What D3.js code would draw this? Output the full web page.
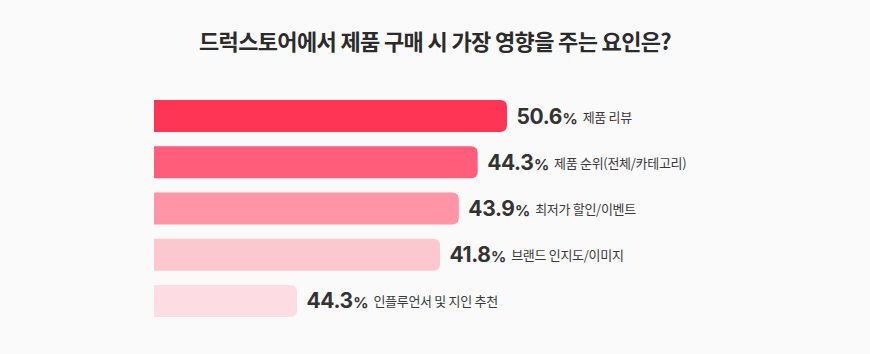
<!DOCTYPE html>
<html>
<head>
<meta charset="utf-8">
<script src="https://cdn.jsdelivr.net/npm/d3@7"></script>
<style>
  html, body { margin: 0; padding: 0; background: #fafafa; }
  svg { display: block; }
</style>
</head>
<body>
<svg id="chart"></svg>
<script>
// chart data
const title = "드럭스토어에서 제품 구매 시 가장 영향을 주는 요인은?";
const categories = ["제품 리뷰", "제품 순위(전체/카테고리)", "최저가 할인/이벤트", "브랜드 인지도/이미지", "인플루언서 및 지인 추천"];
// percentages printed next to each bar
const shares = [50.6, 44.3, 43.9, 41.8, 44.3];
// bar lengths as drawn in the picture (same % units)
const barLengths = [50.6, 46.4, 43.7, 41.0, 20.5];
const colors = ["#ff3556", "#ff5d79", "#ff95a6", "#fdc7d0", "#fddde3"];

const width = 870, height = 354;

const svg = d3.select("#chart")
  .attr("width", width)
  .attr("height", height);

svg.append("rect").attr("width", width).attr("height", height).attr("fill", "#fafafa");

svg.append("text")
  .attr("x", 435)
  .attr("y", 50)
  .attr("text-anchor", "middle")
  .attr("font-family", "'Noto Sans CJK KR', sans-serif")
  .attr("font-weight", 700)
  .attr("font-size", 22)
  .attr("letter-spacing", -0.65)
  .attr("fill", "#2b2b2b")
  .text(title);

const x = d3.scaleLinear().domain([0, 50.6]).range([154, 507]);
const y = d3.scaleBand().domain(d3.range(categories.length)).range([100, 317]).paddingInner(0.307).paddingOuter(0);

// bar with rounded right end only
function barPath(x0, x1, y0, h, r) {
  return `M${x0},${y0}H${x1 - r}Q${x1},${y0} ${x1},${y0 + r}V${y0 + h - r}Q${x1},${y0 + h} ${x1 - r},${y0 + h}H${x0}Z`;
}

const rows = svg.selectAll("g.row")
  .data(categories.map((c, i) => ({ cat: c, share: shares[i], len: barLengths[i], color: colors[i], i })))
  .join("g")
  .attr("class", "row");

rows.append("path")
  .attr("d", d => barPath(x(0), x(d.len), y(d.i), y.bandwidth(), 7))
  .attr("fill", d => d.color);

const labels = rows.append("text")
  .attr("x", d => x(d.len) + 9.5)
  .attr("y", d => y(d.i) + y.bandwidth() / 2 + 7.5)
  .attr("fill", "#333");

labels.append("tspan")
  .attr("font-family", "Inter, sans-serif")
  .attr("font-weight", 700)
  .attr("font-size", 21)
  .attr("letter-spacing", -0.4)
  .text(d => d.share.toFixed(1));

labels.append("tspan")
  .attr("font-family", "Inter, sans-serif")
  .attr("font-weight", 700)
  .attr("font-size", 15)
  .attr("dx", 0.5)
  .text("%");

labels.append("tspan")
  .attr("font-family", "'Noto Sans CJK KR', sans-serif")
  .attr("font-size", 13)
  .attr("letter-spacing", -0.3)
  .attr("dx", 5)
  .attr("dy", -2)
  .attr("fill", "#3a3a3a")
  .text(d => d.cat);
</script>
</body>
</html>
